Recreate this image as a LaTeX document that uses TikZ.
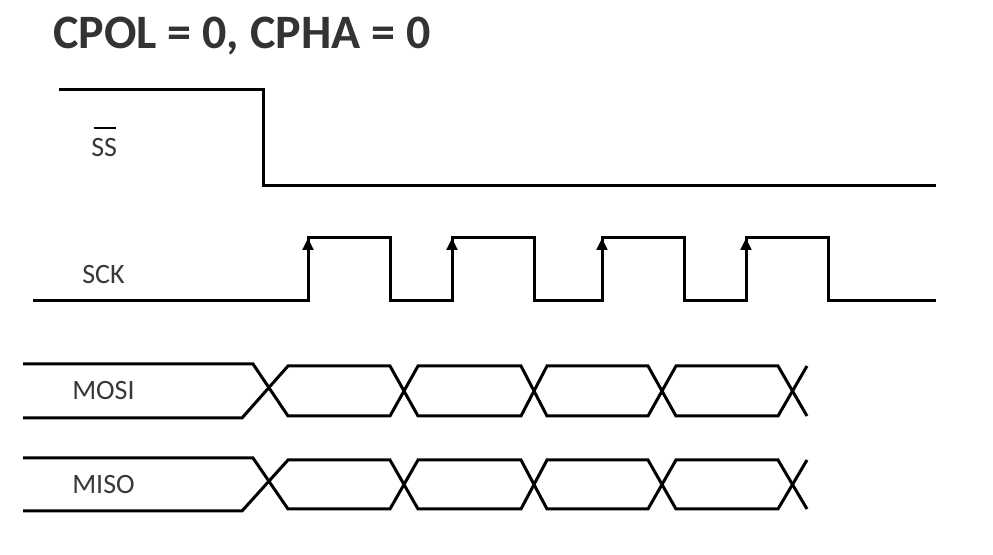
\documentclass[tikz,border=0pt]{standalone}
\usepackage{fontspec}
\setmainfont{Carlito}
\usetikzlibrary{arrows.meta}

\definecolor{titlegray}{HTML}{333333}
\definecolor{labelgray}{HTML}{383838}

\begin{document}
\begin{tikzpicture}[x=0.75pt,y=-0.75pt,
  wire/.style={line width=2.25pt},
  sig/.style={font=\fontsize{21}{25}\selectfont, text=labelgray, inner sep=0pt, anchor=west}]
  \useasboundingbox (0,0) rectangle (993,555);

  % Title
  \node[font=\fontsize{36}{43}\selectfont\bfseries, text=titlegray, inner sep=0pt, anchor=base west] (title) at (53,49) {CPOL = 0, CPHA = 0};

  % Slave select
  \draw[wire] (59,90) -- (263,90) -- (263,186) -- (936,186);
  \node[sig] (ss) at (91,148) {SS};
  \draw[line width=1.8pt] ([xshift=2pt,yshift=8pt]ss.north west) -- ([xshift=-1pt,yshift=8pt]ss.north east);

  % Clock
  \draw[wire] (33,301) foreach \r/\f in {308/390,452/534,602/684,746/828} { -- (\r,301) -- (\r,238) -- (\f,238) -- (\f,301) } -- (936,301);
  \foreach \r in {308,452,602,746}
    \draw[wire,-{Triangle[length=9pt,width=8pt]}] (\r,280) -- (\r,238);
  \node[sig] (sck) at (82,275) {SCK};

  % Data lines
  \foreach \name/\yt/\yb in {MOSI/366/416, MISO/460/509} {
    \draw[wire] (23,\yt-2) -- (253,\yt-2) -- (288,\yb) -- (390,\yb) -- (418,\yt) -- (521,\yt) -- (547,\yb) -- (648,\yb) -- (676,\yt) -- (778,\yt) -- (807,\yb);
    \draw[wire] (23,\yb+2) -- (242,\yb+2) -- (288,\yt) -- (390,\yt) -- (418,\yb) -- (521,\yb) -- (547,\yt) -- (648,\yt) -- (676,\yb) -- (778,\yb) -- (807,\yt);
    \node[sig] (\name) at (72,{(\yt+\yb)/2}) {\name};
  }

\end{tikzpicture}
\end{document}
